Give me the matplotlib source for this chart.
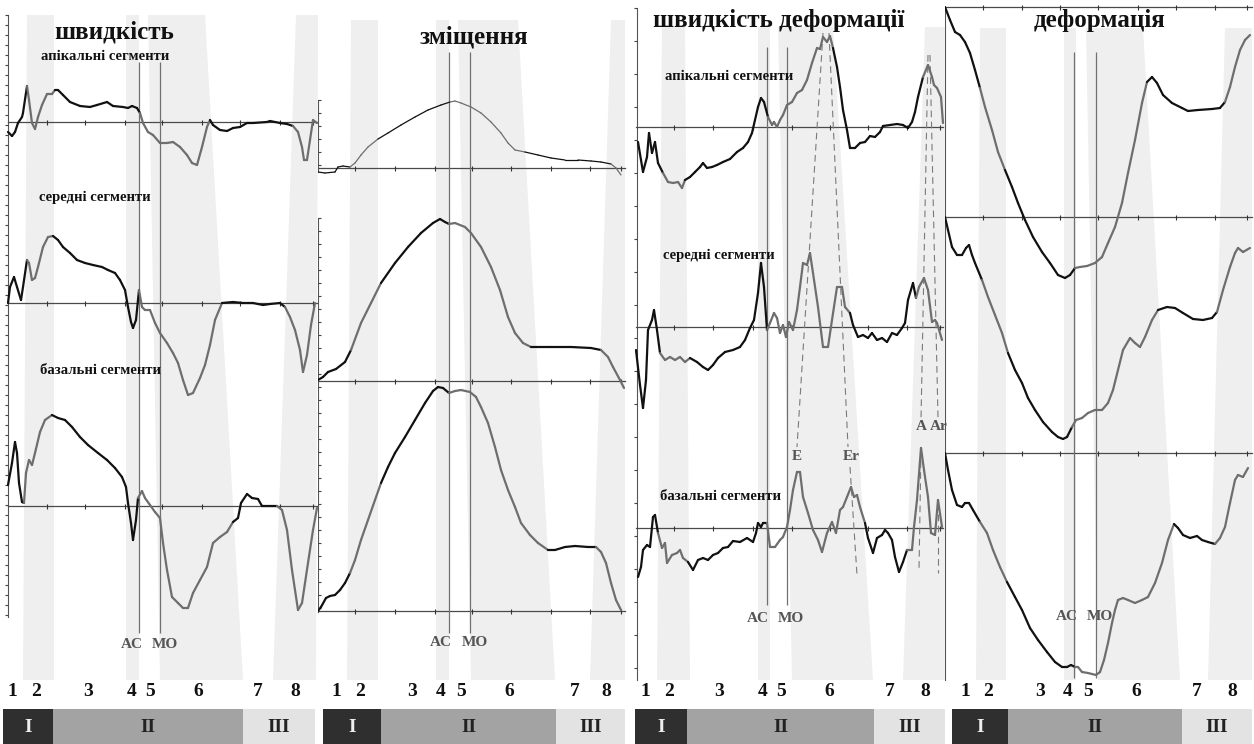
import numpy as np
import matplotlib
matplotlib.use("Agg")
import matplotlib.pyplot as plt
from matplotlib.collections import LineCollection
from matplotlib.patches import Polygon, Rectangle

# values
# time = px from the panel's left edge, value = amplitude above the segment baseline

# --- velocity (швидкість)
vel_ap_t = [8,12,15,18,22,23,27,29,32,35,38,42,47,52,55,58,63,70,80,90,97,107,113,123,128,132,137,140,143,148,
            153,160,167,173,180,187,192,197,202,207,210,213,220,227,233,240,247,253,267,270,280,287,293,298,302,304,307,310,313,317]
vel_ap = [-10,-14,-10,-1,5,9,36,22,-1,-7,5,17,28,28,32,32,27,20,16,15,17,20,16,15,14,16,14,9,-1,-10,
          -13,-21,-21,-20,-25,-33,-41,-43,-25,-5,2,-3,-8,-9,-6,-5,-1,-1,0,1,-1,-2,-4,-10,-25,-38,-38,-18,2,-1]
vel_mid_t = [8,10,14,17,21,23,27,29,32,35,38,43,48,53,58,63,70,77,85,93,102,108,115,120,125,128,131,133,136,138,
             139,142,145,150,155,160,167,173,178,183,188,193,200,205,210,215,222,233,243,253,263,270,280,285,290,295,300,303,307,311,315]
vel_mid = [0,16,26,16,3,16,43,40,23,25,36,56,66,67,63,56,50,43,40,38,36,33,30,23,13,-4,-19,-25,-17,3,
           13,-4,-7,-7,-20,-30,-40,-50,-60,-77,-92,-90,-75,-62,-42,-17,0,1,0,0,-2,-1,0,-4,-14,-27,-47,-69,-52,-22,0]
vel_bas_t = [8,12,15,17,19,22,24,26,29,32,35,40,45,52,58,65,72,80,88,98,107,115,122,126,128,131,133,136,138,142,
             145,150,155,160,163,167,172,178,183,188,193,200,207,213,220,227,233,238,241,247,252,258,262,277,282,287,292,298,302,308,313,317]
vel_bas = [21,43,64,53,23,4,3,33,46,41,53,74,86,91,88,86,79,69,61,53,46,38,29,19,3,-17,-34,-14,8,15,
           8,1,-6,-12,-37,-64,-91,-97,-102,-102,-87,-74,-61,-37,-31,-26,-16,-12,3,12,8,7,0,0,-4,-24,-64,-104,-97,-57,-24,-2]

# --- displacement (зміщення)
dis_ap_t = [0,7,17,20,25,32,37,43,50,60,70,83,97,110,123,132,137,143,153,163,173,183,190,197,207,220,233,247,260,273,283,293,298,303]
dis_ap = [-4,-5,-4,1,2,1,5,13,21,29,35,43,51,58,63,66,67,65,61,55,46,35,25,18,16,13,10,8,8,7,6,4,0,-7]
dis_mid_t = [0,5,10,18,27,33,43,53,63,77,90,103,115,122,127,131,137,147,153,163,173,182,190,197,205,213,233,253,273,283,290,295,302,306]
dis_mid = [1,4,9,12,19,31,58,78,98,118,134,148,158,162,159,157,158,154,148,134,114,91,64,48,38,34,34,34,33,31,24,14,1,-7]
dis_bas_t = [0,3,8,12,17,22,27,32,37,43,50,57,63,70,77,87,97,107,115,120,125,131,137,143,152,158,163,170,177,183,
             190,197,203,212,220,230,237,247,257,270,278,283,288,293,298,303]
dis_bas = [0,4,13,15,16,21,28,38,51,71,91,111,128,144,158,174,191,208,220,224,223,218,220,221,219,214,204,188,164,141,
           121,104,88,76,68,61,61,64,65,64,64,59,48,28,11,1]

# --- strain rate (швидкість деформації)
sr_ap_t = [8,11,13,17,19,22,25,28,33,38,43,48,52,55,60,65,70,73,77,82,87,93,100,107,113,118,122,125,128,131,
           134,138,142,144,147,150,153,157,162,167,172,177,182,187,190,193,197,200,203,207,210,213,217,220,225,230,235,240,245,250,
           253,260,267,273,278,282,285,288,293,298,302,304,307,311,313]
sr_ap = [-15,-33,-45,-30,-6,-26,-15,-36,-46,-55,-56,-55,-61,-53,-50,-45,-40,-36,-41,-40,-38,-35,-32,-25,-21,-15,-6,7,20,29,
         25,10,2,5,0,7,12,22,25,34,37,47,64,79,78,90,85,91,79,60,40,17,-3,-21,-21,-16,-15,-9,-10,-5,
         1,2,3,2,-1,5,15,30,50,62,50,42,39,30,4]
sr_mid_t = [6,10,13,16,18,22,24,27,30,35,40,45,50,55,60,67,73,78,83,88,95,103,110,115,120,124,128,131,134,137,
            140,144,147,150,153,156,159,163,167,170,173,177,180,183,188,193,198,202,207,212,215,220,223,228,233,238,242,247,252,257,
            262,267,272,275,278,283,286,289,294,298,302,305,307,312]
sr_mid = [-23,-58,-81,-53,-3,7,17,-3,-26,-33,-30,-33,-30,-35,-31,-35,-40,-43,-38,-31,-25,-23,-20,-13,-1,7,34,64,40,-3,
          4,14,9,-6,2,-10,5,-3,17,40,64,62,74,54,20,-20,-20,7,40,40,20,14,2,-10,-8,-11,-6,-13,-11,-15,
          -6,-8,-1,4,27,44,29,40,49,37,5,7,4,-13]
sr_bas_t = [8,11,13,17,20,23,25,28,32,35,37,42,47,50,53,58,63,68,73,78,83,88,93,98,103,110,117,123,126,128,
            131,133,137,140,145,150,153,157,160,163,167,170,173,178,183,188,192,197,202,206,210,213,217,221,224,227,230,235,238,243,
            247,252,255,258,262,265,269,273,277,282,284,287,291,294,298,301,305,308,312]
sr_bas = [-49,-39,-22,-17,-19,11,13,-5,-20,-15,-35,-27,-25,-22,-30,-34,-42,-32,-30,-32,-27,-25,-20,-19,-13,-14,-10,-14,-5,5,
          1,5,5,-19,-19,-12,-9,1,18,38,56,56,31,15,-2,-12,-24,-5,6,-5,18,21,31,41,31,33,21,5,-10,-25,
          -10,-7,-2,-5,-12,-29,-44,-34,-22,-22,1,28,80,58,31,-5,-7,28,1]

# --- strain (деформація)
st_ap_t = [0,5,10,15,20,25,30,35,40,47,53,60,67,73,80,88,97,105,113,120,125,130,135,142,150,157,163,170,177,183,
           190,197,202,207,212,218,227,237,243,253,267,275,280,285,290,295,300,305]
st_ap = [0,-13,-25,-28,-35,-46,-63,-81,-100,-123,-145,-163,-180,-196,-213,-230,-245,-256,-268,-271,-268,-261,-260,-259,-256,-250,-236,-220,-196,-166,
         -133,-96,-75,-70,-76,-88,-96,-101,-104,-103,-102,-101,-95,-80,-60,-43,-33,-28]
st_mid_t = [0,3,7,12,17,21,24,27,30,37,43,50,57,63,70,77,83,90,98,107,113,118,122,127,131,137,143,150,157,163,
            168,173,178,185,190,195,200,207,213,222,230,238,248,258,267,272,278,285,290,293,298,305]
st_mid = [0,-13,-30,-38,-38,-31,-28,-38,-46,-63,-80,-98,-116,-136,-153,-166,-181,-193,-205,-215,-220,-222,-220,-210,-203,-201,-196,-193,-193,-186,
          -173,-153,-133,-121,-126,-130,-120,-103,-93,-90,-91,-96,-102,-103,-101,-95,-73,-50,-36,-31,-35,-31]
st_bas_t = [0,3,7,12,17,20,24,28,35,42,48,55,62,70,77,85,93,102,110,117,122,126,130,133,137,143,151,155,159,163,
            167,170,173,178,183,190,197,203,210,217,223,229,233,238,245,252,257,263,270,275,280,285,290,293,298,303]
st_bas = [0,-17,-37,-52,-54,-50,-50,-57,-69,-80,-97,-114,-129,-144,-157,-175,-187,-199,-209,-214,-214,-212,-214,-214,-219,-220,-222,-219,-207,-190,
          -170,-157,-147,-145,-147,-150,-147,-144,-130,-110,-87,-71,-75,-82,-85,-83,-87,-89,-91,-85,-74,-50,-27,-22,-24,-15]

titles = ["швидкість", "зміщення", "швидкість деформації", "деформація"]
segments = ["апікальні сегменти", "середні сегменти", "базальні сегменти"]
phase_digits = ["1", "2", "3", "4", "5", "6", "7", "8"]
phase_names = ["I", "II", "III"]
peak_names = ["E", "Er", "A", "Ar"]

# --- layout (px)
FIG_W, FIG_H = 1254, 744
SERIF = ['Liberation Serif', 'DejaVu Serif']
BLACK = '#111111'
GREY = '#6e6e6e'

panels = [
    dict(x0=0, w=318, curves=[(vel_ap_t, vel_ap), (vel_mid_t, vel_mid), (vel_bas_t, vel_bas)],
         base=[122, 303, 506], base_span=(8, 318), title_xy=(114, 32),
         sub_xy=[(105, 57), (95, 197), (100, 370)],
         bands=[(27, 54, 23, 54), (126, 139, 126, 139), (148, 205, 160, 243), (296, 318, 273, 316)], band_y=(15, 680),
         ac_mo=(139, 160), acmo_y=(62, 633), acmo_lab=[(132, 644), (165, 644)],
         digits_x=[12, 36, 88, 132, 150, 198, 258, 295],
         phases=[(3, 53), (53, 243), (243, 315)],
         yaxis=dict(x=8, segs=[(15, 617)], step=10, side=-1),
         base_ticks=[47, 85, 125, 162, 202, 240, 280, 313]),
    dict(x0=318, w=312, curves=[(dis_ap_t, dis_ap), (dis_mid_t, dis_mid), (dis_bas_t, dis_bas)],
         base=[168, 381, 611], base_span=(0, 307), title_xy=(156, 37), sub_xy=[],
         bands=[(33, 60, 29, 60), (118, 131, 118, 131), (140, 200, 153, 237), (293, 307, 272, 307)], band_y=(20, 680),
         ac_mo=(131, 152), acmo_y=(52, 633), acmo_lab=[(123, 643), (157, 643)],
         digits_x=[18, 42, 94, 123, 143, 191, 257, 288],
         phases=[(5, 63), (63, 238), (238, 307)],
         yaxis=dict(x=0, segs=[(100, 172), (218, 612)], step=13, side=1),
         base_ticks=[37, 77, 117, 154, 193, 233, 272, 303]),
    dict(x0=630, w=315, curves=[(sr_ap_t, sr_ap), (sr_mid_t, sr_mid), (sr_bas_t, sr_bas)],
         base=[127, 327, 528], base_span=(6, 313), title_xy=(149, 20),
         sub_xy=[(99, 77), (89, 255), (90, 497)],
         bands=[(32, 55, 27, 60), (128, 140, 128, 140), (148, 203, 162, 243), (295, 315, 273, 315)], band_y=(27, 680),
         ac_mo=(137, 157), acmo_y=(47, 605), acmo_lab=[(128, 618), (161, 618)],
         digits_x=[15, 39, 89, 133, 151, 199, 260, 295],
         phases=[(5, 57), (57, 244), (244, 315)],
         yaxis=dict(x=7, segs=[(8, 680)], step=33, side=-1),
         base_ticks=[44, 83, 123, 162, 200, 238, 277, 310]),
    dict(x0=945, w=309, curves=[(st_ap_t, st_ap), (st_mid_t, st_mid), (st_bas_t, st_bas)],
         base=[7, 217, 453], base_span=(0, 307), title_xy=(155, 20), sub_xy=[],
         bands=[(35, 61, 31, 61), (119, 131, 119, 131), (141, 198, 153, 235), (280, 307, 263, 307)], band_y=(28, 680),
         ac_mo=(129, 151), acmo_y=(52, 678), acmo_lab=[(122, 616), (155, 616)],
         digits_x=[20, 43, 95, 123, 143, 191, 252, 287],
         phases=[(7, 63), (63, 237), (237, 307)],
         yaxis=dict(x=0, segs=[(7, 680)], step=47, side=-1),
         base_ticks=[38, 77, 115, 153, 193, 231, 270, 302]),
]

# dashed guides through the E / Er / A / Ar peaks (strain-rate panel)
guides = [[(193, 33), (167, 447)], [(199, 33), (218, 447)], [(220, 467), (227, 575)],
          [(298, 55), (291, 420)], [(300, 55), (308, 418)], [(291, 450), (289, 570)], [(308, 503), (308, 573)]]
peak_xy = [(167, 456), (221, 456), (291, 427), (309, 427)]


def band_at(b, y, top, bot):
    f = np.clip((y - top) / (bot - top), 0, 1)
    return b[0] + (b[2] - b[0]) * f, b[1] + (b[3] - b[1]) * f


fig = plt.figure(figsize=(FIG_W / 100, FIG_H / 100), dpi=100)
fig.patch.set_facecolor('white')

for k, p in enumerate(panels):
    ax = fig.add_axes([p['x0'] / FIG_W, 0, p['w'] / FIG_W, 1])
    ax.set_xlim(0, p['w'])
    ax.set_ylim(FIG_H, 0)
    ax.axis('off')
    top, bot = p['band_y']

    for b in p['bands']:
        ax.add_patch(Polygon([(b[0], top), (b[1], top), (b[3], bot), (b[2], bot)],
                             closed=True, fc='#efefef', ec='none', zorder=0))

    # left axis with ticks
    ya = p['yaxis']
    for y0, y1 in ya['segs']:
        ax.plot([ya['x'], ya['x']], [y0, y1], color='#555555', lw=0.8, zorder=2)
        ax.hlines(np.arange(y0, y1, ya['step']), ya['x'], ya['x'] + 3 * ya['side'],
                  color='#444444', lw=0.8, zorder=2)

    # baselines
    for bl in p['base']:
        ax.plot(p['base_span'], [bl, bl], color='#4a4a4a', lw=0.9, zorder=2)
        ax.vlines(p['base_ticks'], bl - 2.5, bl + 2.5, color='#333333', lw=0.8, zorder=2)

    # AC / MO lines
    ac, mo = p['ac_mo']
    ax.vlines([ac, mo], p['acmo_y'][0], p['acmo_y'][1], color='#707070', lw=0.9, zorder=2)
    for lab, (lx, ly) in zip(["AC", "MO"], p['acmo_lab']):
        ax.text(lx, ly, lab, ha='center', va='center', fontsize=11, fontweight='bold',
                color='#555555', family=SERIF, zorder=4)

    # curves, grey inside the shaded phases
    for i, (t, v) in enumerate(p['curves']):
        t = np.asarray(t, float)
        y = p['base'][i] - np.asarray(v, float)
        pts = np.column_stack([t, y])
        segs = np.stack([pts[:-1], pts[1:]], axis=1)
        tm = (t[:-1] + t[1:]) / 2
        ym = (y[:-1] + y[1:]) / 2
        cols = []
        for a, c in zip(tm, ym):
            l1, r1 = band_at(p['bands'][0], c, top, bot)
            _, r3 = band_at(p['bands'][2], c, top, bot)
            l4, _ = band_at(p['bands'][3], c, top, bot)
            grey = (l1 <= a <= r1) or (ac <= a <= r3) or (a >= l4)
            cols.append(GREY if grey else BLACK)
        lw = 0.9 if (k == 1 and i == 0) else 1.6
        ax.add_collection(LineCollection(segs, colors=cols, linewidths=lw,
                                         capstyle='round', joinstyle='round', zorder=3))

    # titles
    ax.text(p['title_xy'][0], p['title_xy'][1], titles[k], ha='center', va='center',
            fontsize=18, fontweight='bold', family=SERIF, color=BLACK, zorder=5)
    for name, (sx, sy) in zip(segments, p['sub_xy']):
        ax.text(sx, sy, name, ha='center', va='center', fontsize=10.5, fontweight='bold',
                family=SERIF, color=BLACK, zorder=5)

    # phase numbers and bars
    for d, dx in zip(phase_digits, p['digits_x']):
        ax.text(dx, 692, d, ha='center', va='center', fontsize=14, fontweight='bold',
                family=SERIF, color=BLACK)
    for (l, r), name, fc, tc in zip(p['phases'], phase_names,
                                    ['#2f2f2f', '#a3a3a3', '#e3e3e3'], ['#eeeeee', '#222222', '#222222']):
        ax.add_patch(Rectangle((l, 709), r - l, 35, fc=fc, ec='none', zorder=1))
        ax.text((l + r) / 2, 727, name, ha='center', va='center', fontsize=14,
                fontweight='bold', family=SERIF, color=tc, zorder=2)

    if k == 2:
        for g in guides:
            gx, gy = zip(*g)
            ax.plot(gx, gy, color='#7a7a7a', lw=0.8, ls=(0, (6, 4)), zorder=2)
        for name, (px, py) in zip(peak_names, peak_xy):
            ax.text(px, py, name, ha='center', va='center', fontsize=11, fontweight='bold',
                    color='#555555', family=SERIF, zorder=5)

fig.savefig("out.png", dpi=100)
